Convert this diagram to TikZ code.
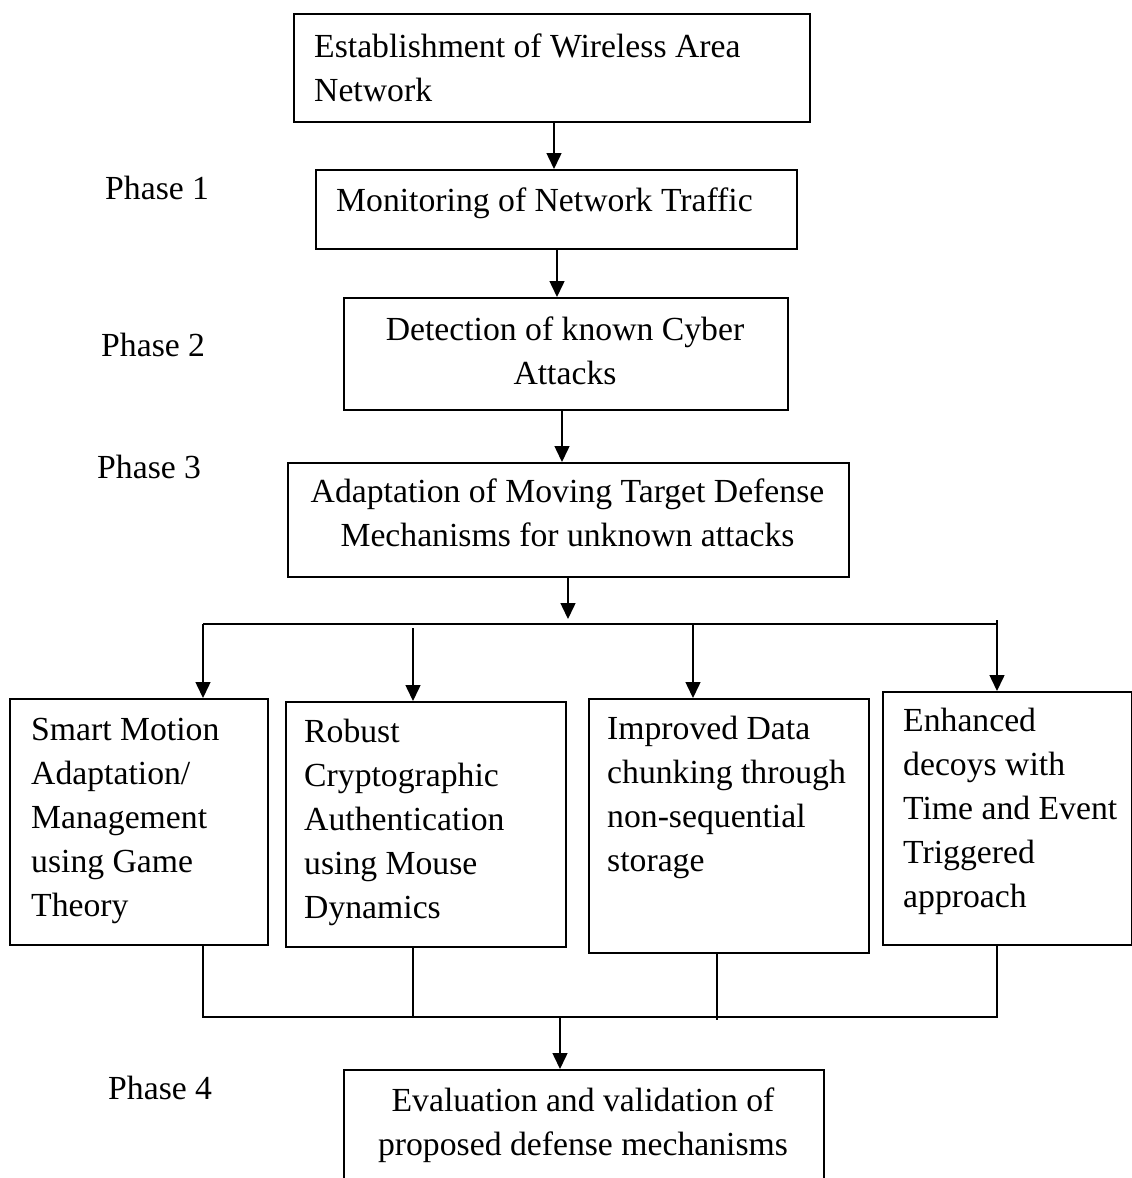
\documentclass[tikz,border=0pt]{standalone}
\usepackage{fontspec}
\setmainfont{Liberation Serif}
\usetikzlibrary{arrows.meta}
\newcommand\myfirststrut{\rule{0pt}{30pt}}
\begin{document}
\begin{tikzpicture}[x=1pt,y=-1pt,
  box/.style={draw, line width=1.5pt, inner sep=0pt, anchor=north west},
  txt/.style={font=\fontsize{33.7}{44}\selectfont, inner sep=0pt, align=left, anchor=north west},
  ctxt/.style={font=\fontsize{33.7}{44}\selectfont, inner sep=0pt, align=center, anchor=north},
  phase/.style={font=\fontsize{33.7}{44}\selectfont, inner sep=0pt, anchor=base west},
  arr/.style={line width=1.5pt, -{Triangle[length=16pt,width=15pt]}},
  ln/.style={line width=1.5pt}]
\useasboundingbox (0,0) rectangle (1132,1178);

% boxes
\node[box, minimum width=516pt, minimum height=108pt] (b1) at (293,13) {};
\node[box, minimum width=481pt, minimum height=79pt]  (b2) at (315,169) {};
\node[box, minimum width=444pt, minimum height=112pt] (b3) at (343,297) {};
\node[box, minimum width=561pt, minimum height=114pt] (b4) at (287,462) {};
\node[box, minimum width=258pt, minimum height=246pt] (b5) at (9,698) {};
\node[box, minimum width=280pt, minimum height=245pt] (b6) at (285,701) {};
\node[box, minimum width=280pt, minimum height=254pt] (b7) at (588,698) {};
\node[box, minimum width=249pt, minimum height=253pt] (b8) at (882,691) {};
\node[box, minimum width=480pt, minimum height=125pt] (b9) at (343,1069) {};

% texts
\node[txt] (t1) at (314,27) {\myfirststrut Establishment of Wireless Area\\Network};
\node[txt] (t2) at (336,181) {\myfirststrut Monitoring of Network Traffic};
\node[ctxt] (t3) at (565,310) {\myfirststrut Detection of known Cyber\\Attacks};
\node[ctxt] (t4) at (567.5,472) {\myfirststrut Adaptation of Moving Target Defense\\Mechanisms for unknown attacks};
\node[txt] (t5) at (31,710) {\myfirststrut Smart Motion\\Adaptation/\\Management\\using Game\\Theory};
\node[txt] (t6) at (304,712) {\myfirststrut Robust\\Cryptographic\\Authentication\\using Mouse\\Dynamics};
\node[txt] (t7) at (607,709) {\myfirststrut Improved Data\\chunking through\\non-sequential\\storage};
\node[txt] (t8) at (903,701) {\myfirststrut Enhanced\\decoys with\\Time and Event\\Triggered\\approach};
\node[ctxt] (t9) at (583,1081) {\myfirststrut Evaluation and validation of\\proposed defense mechanisms};

% phase labels
\node[phase] (p1) at (105,199) {Phase 1};
\node[phase] (p2) at (101,356) {Phase 2};
\node[phase] (p3) at (97,478) {Phase 3};
\node[phase] (p4) at (108,1099) {Phase 4};

% vertical chain
\draw[arr] (554,0 |- b1.south) -- (554,0 |- b2.north);
\draw[arr] (557,0 |- b2.south) -- (557,0 |- b3.north);
\draw[arr] (562,0 |- b3.south) -- (562,0 |- b4.north);
\coordinate (s4) at (568,619);
\draw[arr] (568,0 |- b4.south) -- (s4);

% split
\coordinate (hl) at (203,624);
\coordinate (hr) at (997,624);
\draw[ln] (hl) -- (hr);
\draw[arr] (hl) -- (hl |- b5.north);
\coordinate (d2) at (413,628);
\draw[arr] (d2) -- (d2 |- b6.north);
\coordinate (d3) at (693,624);
\draw[arr] (d3) -- (d3 |- b7.north);
\coordinate (d4) at (997,620);
\draw[arr] (d4) -- (d4 |- b8.north);

% join
\coordinate (jl) at (203,1017);
\coordinate (jr) at (997,1017);
\draw[ln] (jl |- b5.south) -- (jl) -- (jr) -- (jr |- b8.south);
\coordinate (j2) at (413,1017);
\draw[ln] (j2 |- b6.south) -- (j2);
\coordinate (j3) at (717,1020);
\draw[ln] (j3 |- b7.south) -- (j3);
\coordinate (jm) at (560,1017);
\draw[arr] (jm) -- (jm |- b9.north);
\end{tikzpicture}
\end{document}
